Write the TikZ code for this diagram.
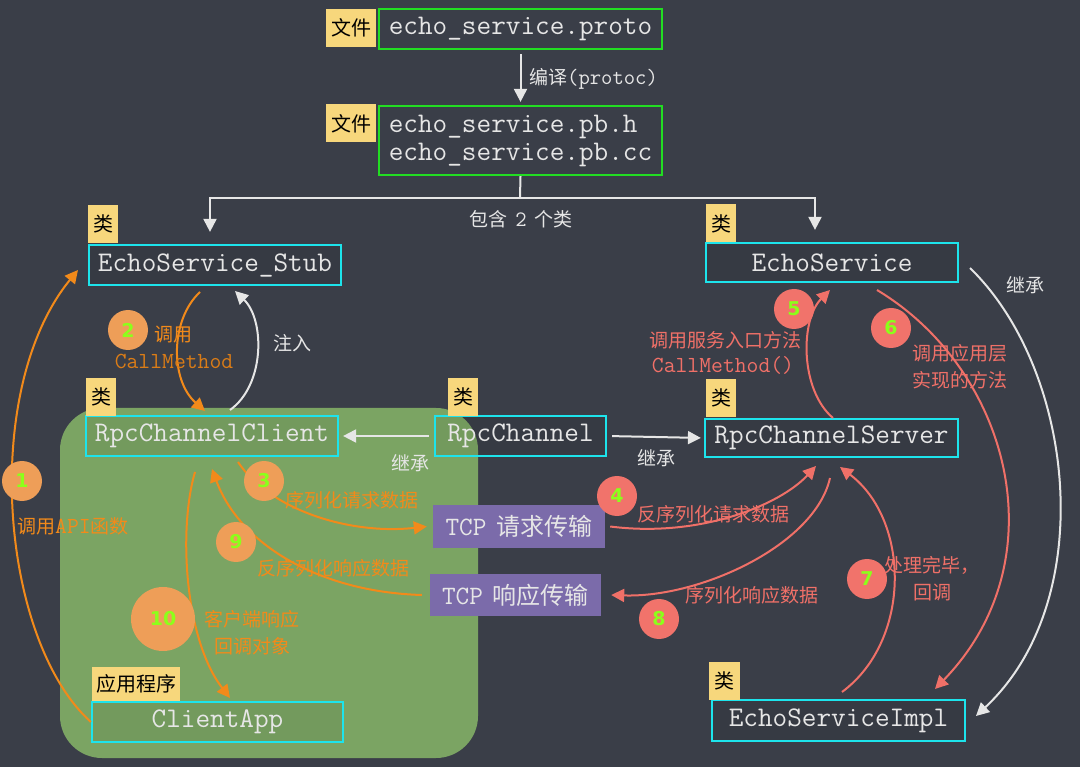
\documentclass[tikz,border=0pt]{standalone}
\usepackage{fontspec}
\newfontfamily\cjk{Noto Sans CJK SC}
\newcommand\mono{\ttfamily}
\newfontfamily\numf{DejaVu Sans}
\usetikzlibrary{arrows.meta,calc}
\definecolor{board}{HTML}{3A3E48}
\definecolor{greg}{HTML}{7BA463}
\definecolor{cyanc}{HTML}{1DE4EC}
\definecolor{greenc}{HTML}{22DD22}
\definecolor{tagy}{HTML}{F7D77C}
\definecolor{orng}{HTML}{F28A1A}
\definecolor{orc}{HTML}{EE9E58}
\definecolor{salm}{HTML}{F07068}
\definecolor{salc}{HTML}{F1736B}
\definecolor{tcpp}{HTML}{7B6BAA}
\definecolor{numg}{HTML}{8CFF1A}
\definecolor{chalk}{HTML}{E6E6E6}
\begin{document}
\begin{tikzpicture}[x=1pt,y=-1pt,
  cbox/.style={draw=cyanc, line width=2.2pt, inner sep=0pt, fill=black, fill opacity=0.06, text opacity=1, text=chalk, font=\mono\fontsize{28.4}{30}\selectfont},
  gbox/.style={draw=greenc, line width=2.2pt, inner sep=0pt, text=chalk, font=\mono\fontsize{28.4}{28}\selectfont},
  tag/.style={fill=tagy, text=black, inner sep=0pt, font=\cjk\fontsize{20}{20}\selectfont},
  tcp/.style={fill=tcpp, text=chalk, inner sep=0pt},
  onum/.style={circle, fill=orc, minimum size=40pt, inner sep=0pt, text=numg, font=\numf\bfseries\fontsize{19}{20}\selectfont},
  rnum/.style={onum, fill=salc},
  olab/.style={text=orng, inner sep=0pt, align=center, font=\cjk\fontsize{19}{27}\selectfont},
  rlab/.style={olab, text=salm},
  wlab/.style={olab, text=chalk},
  oarr/.style={draw=orng, line width=2pt, -{Triangle[length=13pt,width=13pt]}},
  rarr/.style={oarr, draw=salm},
  warr/.style={oarr, draw=chalk},
  wline/.style={draw=chalk, line width=2pt}]
\fill[board] (0,0) rectangle (1080,767);
\useasboundingbox (0,0) rectangle (1080,767);
% green client area
\fill[greg, rounded corners=42pt] (60,408) rectangle (478,758);

% files
\node[gbox, minimum width=283pt, minimum height=40pt] (proto) at (520.5,29) {echo\_service.proto};
\node[tag, minimum width=50pt, minimum height=38pt] (t1) at (351,28) {文件};
\node[gbox, minimum width=283pt, minimum height=69pt, align=left] (pb) at (520.5,140.5) {echo\_service.pb.h\\echo\_service.pb.cc};
\node[tag, minimum width=50pt, minimum height=38pt] (t2) at (351,123.5) {文件};

% classes
\node[cbox, minimum width=252pt, minimum height=40pt] (stub) at (215,265) {EchoService\_Stub};
\node[tag, minimum width=30pt, minimum height=38pt] (tstub) at (103,224) {类};
\node[cbox, minimum width=252pt, minimum height=39pt] (es) at (832,262.5) {EchoService};
\node[tag, minimum width=30pt, minimum height=38pt] (tes) at (721,223.5) {类};
\node[cbox, minimum width=252pt, minimum height=40pt] (ccl) at (212,436) {RpcChannelClient};
\node[tag, minimum width=30pt, minimum height=38pt] (tccl) at (101,397) {类};
\node[cbox, minimum width=171pt, minimum height=40pt] (rc) at (520.5,436) {RpcChannel};
\node[tag, minimum width=30pt, minimum height=38pt] (trc) at (463,397) {类};
\node[cbox, minimum width=253pt, minimum height=38pt] (csv) at (831.5,438) {RpcChannelServer};
\node[tag, minimum width=30pt, minimum height=38pt] (tcsv) at (721,398) {类};
\node[cbox, minimum width=251pt, minimum height=40pt] (capp) at (217.5,722) {ClientApp};
\node[tag, minimum width=88pt, minimum height=34pt] (tcapp) at (136,684) {应用程序};
\node[cbox, minimum width=253pt, minimum height=41pt] (impl) at (838.5,720.5) {EchoServiceImpl};
\node[tag, minimum width=31pt, minimum height=38pt] (timpl) at (724.5,680.5) {类};

% TCP boxes
\node[tcp, minimum width=172pt, minimum height=43pt] (tcp1) at (519,526.5) {{\mono\fontsize{26.5}{26}\selectfont TCP}\hspace{10pt}{\cjk\fontsize{24}{26}\selectfont 请求传输}};
\node[tcp, minimum width=171pt, minimum height=42pt] (tcp2) at (515.5,595) {{\mono\fontsize{26.5}{26}\selectfont TCP}\hspace{10pt}{\cjk\fontsize{24}{26}\selectfont 响应传输}};

% top connectors
\draw[warr] ([yshift=-4pt]proto.south) -- ([yshift=3pt]pb.north);
\node[wlab, anchor=west] (lcomp) at (529,79) {编译{\mono\fontsize{22}{22}\selectfont (protoc)}};
\coordinate (split) at (520,198);
\draw[wline] (pb.south) -- (split);
\draw[warr] (split) -| ([xshift=-5pt,yshift=12pt]stub.north);
\draw[warr] (split) -| ([xshift=-17pt,yshift=12pt]es.north);
\node[wlab] (lcont) at (521,219) {包含\hspace{8pt}{\mono\fontsize{22}{22}\selectfont 2}\hspace{8pt}个类};

% inheritance
\draw[warr, shorten <=5pt, shorten >=4pt] (rc.west) -- (ccl.east);
\draw[warr, shorten <=5pt, shorten >=3pt] (rc.east) -- (csv.west);
\node[wlab] (linh1) at (410,463) {继承};
\node[wlab] (linh2) at (656,458) {继承};
\coordinate (esr) at (970,268);
\coordinate (implr) at (976,716);
\draw[warr] (esr) .. controls (1075,370) and (1100,600) .. (implr);
\node[wlab] (linh3) at (1025,285) {继承};

% client side (orange)
\coordinate (c1e) at (78,270);
\draw[oarr] (capp.west) .. controls (0,640) and (-20,390) .. (c1e);
\node[onum] (n1) at (22,481) {1};
\node[olab] (l1) at (73,526) {调用{\mono\fontsize{23}{20}\selectfont API}函数};

\coordinate (c2s) at (200,292);
\coordinate (c2e) at (205,411);
\draw[oarr] (c2s) .. controls (170,320) and (170,380) .. (c2e);
\node[onum] (n2) at (128,330) {2};
\node[olab] (l2) at (173,335) {调用};
\node[olab, text=orng!90!black] (l2b) at (174,361) {\mono\fontsize{23}{20}\selectfont CallMethod};

\coordinate (inj1) at (230,410);
\coordinate (inj2) at (235,291);
\draw[warr] (inj1) .. controls (265,385) and (265,320) .. (inj2);
\node[wlab] (linj) at (292,343) {注入};

\coordinate (c3s) at (238,462);
\draw[oarr] (c3s) .. controls (270,510) and (350,535) .. ([xshift=-6pt]tcp1.west);
\node[onum] (n3) at (264,481) {3};
\node[olab] (l3) at (352,500) {序列化请求数据};

\coordinate (c9e) at (212,469);
\draw[oarr] ([xshift=-8pt]tcp2.west) .. controls (320,592) and (240,545) .. (c9e);
\node[onum] (n9) at (236,542) {9};
\node[olab] (l9) at (333,568) {反序列化响应数据};

\coordinate (c10s) at (195,472);
\coordinate (c10e) at (230,698);
\draw[oarr] (c10s) .. controls (178,530) and (185,640) .. (c10e);
\node[onum, minimum size=64pt] (n10) at (163,619) {10};
\node[olab] (l10) at (252,633) {客户端响应\\回调对象};

% server side (salmon)
\coordinate (c4e) at (816,466);
\draw[rarr] ([xshift=5pt]tcp1.east) .. controls (700,538) and (780,505) .. (c4e);
\node[rnum] (n4) at (617,496) {4};
\node[rlab] (l4) at (713,514) {反序列化请求数据};

\coordinate (c8s) at (830,478);
\draw[rarr] (c8s) .. controls (815,545) and (700,598) .. ([xshift=10pt]tcp2.east);
\node[rnum] (n8) at (659,619) {8};
\node[rlab] (l8) at (752,595) {序列化响应数据};

\coordinate (c7s) at (842,692);
\coordinate (c7e) at (840,467);
\draw[rarr] (c7s) .. controls (912,640) and (910,520) .. (c7e);
\node[rnum] (n7) at (867,579) {7};
\node[rlab] (l7) at (932,579) {处理完毕，\\回调};

\coordinate (c5s) at (833,418);
\coordinate (c5e) at (830,290);
\draw[rarr] (c5s) .. controls (800,390) and (800,320) .. (c5e);
\node[rnum] (n5) at (794,309) {5};
\node[rlab] (l5) at (725,340) {调用服务入口方法};
\node[rlab] (l5b) at (723,365) {\mono\fontsize{23}{20}\selectfont CallMethod()};

\coordinate (c6s) at (877,290);
\coordinate (c6e) at (935,689);
\draw[rarr] (c6s) .. controls (1010,370) and (1060,560) .. (c6e);
\node[rnum] (n6) at (891,328) {6};
\node[rlab] (l6) at (960,367) {调用应用层\\实现的方法};
\end{tikzpicture}
\end{document}
